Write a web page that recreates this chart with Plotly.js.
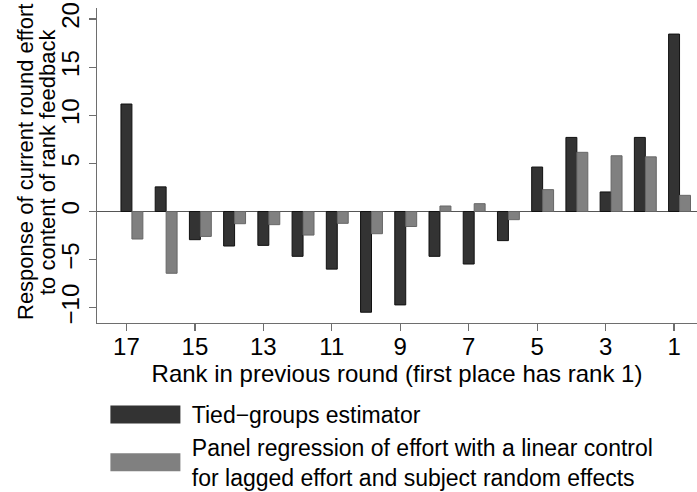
<!DOCTYPE html>
<html>
<head>
<meta charset="utf-8">
<script src="https://cdn.plot.ly/plotly-3.0.1.min.js"></script>
<style>
html,body{margin:0;padding:0;background:#fff;}
#chart{width:697px;height:492px;}
#chart .legendlines path{stroke-width:18px !important;}
</style>
</head>
<body>
<div id="chart"></div>
<script>
// Rank in previous round (first place has rank 1)
const ranks = [17,16,15,14,13,12,11,10,9,8,7,6,5,4,3,2,1];
// Tied-groups estimator
const tiedGroups = [11.17,2.56,-2.93,-3.59,-3.52,-4.66,-5.99,-10.47,-9.71,-4.66,-5.46,-3.03,4.62,7.70,2.03,7.70,18.44];
// Panel regression with linear control for lagged effort and subject random effects
const panelRegression = [-2.86,-6.42,-2.59,-1.27,-1.37,-2.45,-1.23,-2.31,-1.56,0.57,0.81,-0.85,2.27,6.15,5.79,5.68,1.68];
const xTicks = [17,15,13,11,9,7,5,3,1];
const yTicks = [-10,-5,0,5,10,15,20];
const seriesNames = ["Tied\u2212groups estimator",
  "Panel regression of effort with a linear control<br>for lagged effort and subject random effects"];

const darkFill = "#333333", darkLine = "#111111";
const lightFill = "#808080", lightLine = "#666666";
const FONT = "Liberation Sans, Arial, Helvetica, sans-serif";
const pad = s => s.split("<br>").map(t => "\u00a0" + t).join("<br>");

const traces = [
  {type:"bar", x:ranks, y:tiedGroups, width:0.32, offset:-0.16, name:seriesNames[0],
   marker:{color:darkFill, line:{color:darkLine, width:1}}, showlegend:false, hoverinfo:"x+y"},
  {type:"bar", x:ranks, y:panelRegression, width:0.32, offset:-0.48, name:seriesNames[1],
   marker:{color:lightFill, line:{color:lightLine, width:1}}, showlegend:false, hoverinfo:"x+y"},
  // legend keys
  {type:"scatter", mode:"lines", x:[null], y:[null], name:pad(seriesNames[0]),
   line:{color:darkFill, width:10}, hoverinfo:"skip"},
  {type:"scatter", mode:"lines", x:[null], y:[null], name:pad(seriesNames[1]),
   line:{color:lightFill, width:10}, hoverinfo:"skip"}
];

const layout = {
  width:697, height:492,
  margin:{l:97, r:0, t:8, b:169},
  paper_bgcolor:"#fff", plot_bgcolor:"#fff",
  font:{family:FONT, color:"#000", size:23},
  barmode:"overlay",
  showlegend:true,
  legend:{x:0.014, xanchor:"left", yref:"container", y:0.2013, yanchor:"top", orientation:"v",
          itemwidth:70, font:{size:23, color:"#000"}, bgcolor:"rgba(0,0,0,0)",
          tracegroupgap:0, itemclick:false, itemdoubleclick:false},
  xaxis:{range:[17.86,0.33], tickmode:"array", tickvals:xTicks, ticktext:xTicks.map(String),
         showline:true, linecolor:"#6e6e6e", linewidth:1.3, ticks:"outside", ticklen:7,
         tickcolor:"#6e6e6e", tickwidth:1.3, showgrid:false, zeroline:false, automargin:false,
         ticklabelstandoff:-5, tickfont:{size:24, color:"#000"},
         title:{text:"Rank in previous round (first place has rank 1)", font:{size:24, color:"#000"}, standoff:1}},
  yaxis:{range:[-11.59,21.15], tickmode:"array", tickvals:yTicks, ticktext:yTicks.map(v=>v<0?"\u2212"+Math.abs(v):String(v)),
         showline:true, linecolor:"#6e6e6e", linewidth:1.3, ticks:"outside", ticklen:7,
         tickcolor:"#6e6e6e", tickwidth:1.3, showgrid:false, automargin:false,
         zeroline:true, zerolinecolor:"#555555", zerolinewidth:1.3,
         tickangle:-90, tickfont:{size:24, color:"#000"}},
  annotations:[
    {xref:"paper", yref:"paper", x:0, y:0.5, xanchor:"center", yanchor:"middle", xshift:-72, yshift:3.5,
     textangle:-90, showarrow:false, text:"Response of current round effort", font:{size:22, color:"#000"}},
    {xref:"paper", yref:"paper", x:0, y:0.5, xanchor:"center", yanchor:"middle", xshift:-50, yshift:3.5,
     textangle:-90, showarrow:false, text:"to content of rank feedback", font:{size:22, color:"#000"}}
  ]
};

Plotly.newPlot("chart", traces, layout, {displayModeBar:false, staticPlot:true});
</script>
</body>
</html>
